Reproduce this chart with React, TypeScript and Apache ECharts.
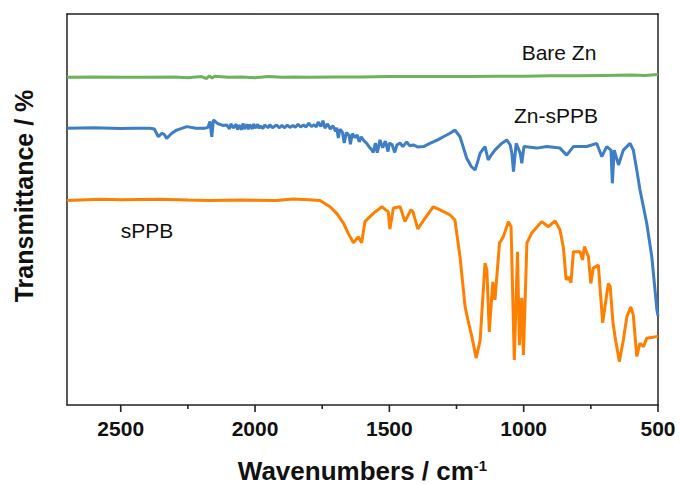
import React, { useEffect, useRef } from "react";
import * as echarts from "echarts";

// Wavenumber axis (cm^-1): range, major and minor tick values
const xRange = [500, 2700];
const xMajorStep = 500;
const xMajorTicks = [500, 1000, 1500, 2000, 2500];
const xMinorTicks = [750, 1250, 1750, 2250];

// Series names
const seriesNames = ["Bare Zn", "Zn-sPPB", "sPPB"];

// [wavenumber, transmittance (arbitrary offset %)]
const bareZn: [number, number][] = [
  [2700, 83.8], [2600, 83.9], [2500, 83.8], [2400, 83.8], [2300, 83.9], [2250, 83.7],
  [2200, 84.0], [2180, 83.5], [2170, 84.2], [2160, 83.6], [2150, 84.1], [2100, 83.8],
  [2050, 83.9], [2000, 83.7], [1950, 84.0], [1900, 83.8], [1850, 83.9], [1800, 83.8],
  [1700, 83.9], [1600, 83.9], [1500, 84.0], [1400, 84.0], [1300, 84.0], [1200, 84.0],
  [1100, 84.1], [1000, 84.1], [900, 84.2], [800, 84.2], [700, 84.3], [600, 84.4],
  [550, 84.3], [500, 84.5],
];

const znSPPB: [number, number][] = [
  [2700, 70.8], [2600, 70.9], [2500, 70.7], [2450, 70.8], [2391, 70.8], [2375, 70.6],
  [2360, 68.6], [2347, 69.5], [2338, 69.2], [2329, 68.2], [2310, 69.5], [2292, 70.3],
  [2254, 71.2], [2220, 70.8], [2185, 70.8], [2175, 71.0], [2168, 72.5], [2161, 68.6],
  [2155, 72.9], [2140, 72.0], [2120, 71.5], [2105, 71.6], [2095, 70.6], [2090, 71.9],
  [2080, 70.9], [2070, 71.8], [2065, 70.4], [2060, 71.6], [2050, 70.4], [2045, 72.0],
  [2040, 70.6], [2030, 71.8], [2025, 70.5], [2020, 71.7], [2010, 70.6], [2005, 71.9],
  [2000, 70.8], [1990, 71.8], [1985, 70.7], [1981, 71.4], [1970, 70.7], [1965, 71.6],
  [1950, 70.9], [1945, 71.7], [1935, 70.9], [1920, 71.6], [1910, 70.9], [1900, 71.5],
  [1890, 70.9], [1880, 71.6], [1870, 71.0], [1859, 71.5], [1850, 71.0], [1840, 71.8],
  [1830, 71.1], [1820, 71.6], [1810, 71.1], [1800, 72.1], [1790, 71.2], [1780, 71.7],
  [1772, 71.1], [1765, 72.4], [1755, 71.2], [1747, 72.7], [1740, 70.8], [1730, 71.9],
  [1720, 70.6], [1710, 71.4], [1700, 70.0], [1696, 70.9], [1690, 68.3], [1684, 70.5],
  [1675, 69.8], [1668, 67.0], [1660, 69.7], [1650, 68.9], [1645, 66.7], [1638, 69.4],
  [1628, 68.4], [1620, 69.1], [1612, 67.3], [1605, 68.6], [1595, 67.6], [1585, 67.0],
  [1575, 66.0], [1565, 65.2], [1560, 64.6], [1552, 67.0], [1545, 64.5], [1535, 67.8],
  [1525, 65.8], [1515, 67.5], [1505, 64.8], [1500, 67.0], [1490, 66.6], [1480, 64.6],
  [1472, 66.5], [1460, 67.0], [1450, 66.1], [1435, 67.3], [1425, 66.3], [1411, 66.5],
  [1395, 66.0], [1373, 66.1], [1349, 66.9], [1320, 67.8], [1299, 68.6], [1274, 69.5],
  [1256, 70.3], [1237, 68.6], [1212, 63.1], [1195, 61.0], [1181, 60.1], [1170, 62.5],
  [1162, 64.4], [1144, 66.1], [1132, 62.7], [1120, 64.0], [1107, 65.2], [1082, 66.9],
  [1063, 67.8], [1050, 66.5], [1044, 64.4], [1038, 59.7], [1028, 66.9], [1013, 64.4],
  [1007, 61.8], [999, 66.1], [951, 65.7], [914, 66.1], [865, 65.7], [840, 63.9],
  [815, 66.1], [765, 66.1], [728, 66.9], [709, 63.5], [691, 66.1], [675, 65.2],
  [670, 56.7], [663, 65.2], [647, 61.4], [629, 65.2], [604, 66.9], [592, 65.2],
  [579, 60.1], [567, 55.0], [542, 46.5], [523, 37.9], [504, 24.3], [500, 22.8],
];

const sPPB: [number, number][] = [
  [2700, 52.3], [2577, 52.6], [2500, 52.5], [2354, 52.6], [2250, 52.4], [2168, 52.3],
  [2050, 52.4], [1919, 52.3], [1859, 52.7], [1800, 52.5], [1758, 52.3], [1721, 50.7],
  [1696, 49.0], [1671, 46.5], [1653, 43.9], [1634, 41.5], [1625, 42.2], [1616, 43.0],
  [1603, 41.5], [1591, 46.9], [1560, 49.0], [1528, 50.7], [1504, 49.4], [1498, 45.0],
  [1485, 50.4], [1460, 50.7], [1442, 46.9], [1420, 49.9], [1412, 49.4], [1394, 45.0],
  [1380, 46.5], [1337, 50.7], [1311, 49.9], [1274, 48.6], [1256, 47.3], [1237, 37.9],
  [1218, 25.1], [1206, 21.3], [1193, 17.5], [1177, 12.0], [1162, 16.6], [1144, 36.3],
  [1137, 34.5], [1128, 18.7], [1115, 31.5], [1107, 26.9], [1090, 41.4], [1076, 43.0],
  [1057, 46.9], [1047, 45.6], [1035, 11.5], [1023, 39.2], [1016, 15.3], [1007, 27.4],
  [1001, 12.8], [988, 41.4], [970, 44.0], [933, 46.9], [908, 45.6], [883, 47.1],
  [865, 44.8], [852, 40.2], [842, 32.0], [834, 32.8], [824, 31.3], [815, 39.2],
  [790, 39.2], [781, 37.1], [774, 40.5], [759, 37.9], [750, 31.1], [741, 35.0],
  [722, 35.8], [706, 21.0], [685, 31.1], [678, 30.3], [668, 21.3], [660, 17.5],
  [644, 11.1], [629, 16.6], [616, 22.6], [601, 25.1], [592, 23.0], [579, 12.4],
  [567, 15.8], [554, 14.9], [542, 17.1], [520, 17.3], [504, 17.5], [500, 17.6],
];

const seriesData = [bareZn, znSPPB, sPPB];
const seriesColors = ["#6db35c", "#3d7ec4", "#ff7f00"];

export default function App() {
  const ref = useRef<HTMLDivElement>(null);

  useEffect(() => {
    document.body.style.margin = "0";
    if (!ref.current) return;
    const chart = echarts.init(ref.current, null, { renderer: "svg" });
    const font = "'Liberation Sans', Arial, Helvetica, sans-serif";
    const axisColor = "#222";
    const hiddenAxisParts = {
      axisTick: { show: false },
      axisLabel: { show: false },
      splitLine: { show: false },
    };
    const centered = {
      align: "center",
      verticalAlign: "middle",
      textAlign: "center",
      textVerticalAlign: "middle",
    };

    chart.setOption({
      animation: false,
      backgroundColor: "#ffffff",
      textStyle: { fontFamily: font },
      grid: { left: 67, right: 22, top: 14, bottom: 79, outerBoundsMode: "none", containLabel: false },
      xAxis: [
        {
          type: "value",
          min: xRange[0],
          max: xRange[1],
          interval: xMajorStep,
          inverse: true,
          position: "bottom",
          axisLine: { show: true, onZero: false, lineStyle: { color: axisColor, width: 1.5 } },
          axisTick: { show: false },
          axisLabel: {
            formatter: (v: number) => String(v),
            showMaxLabel: false,
            showMinLabel: true,
            fontSize: 21,
            fontWeight: "bold",
            color: "#111",
            margin: 13,
            fontFamily: font,
          },
          splitLine: { show: false },
          name: "{a|Wavenumbers / cm}{s|-1}",
          nameLocation: "middle",
          nameGap: 53,
          nameTextStyle: {
            lineHeight: 25,
            rich: {
              a: { fontSize: 26, lineHeight: 25, fontWeight: "bold", color: "#111", fontFamily: font },
              s: {
                fontSize: 15,
                lineHeight: 15,
                fontWeight: "bold",
                color: "#111",
                fontFamily: font,
                verticalAlign: "top",
                padding: [0, 0, 8, 0],
              },
            },
          },
        },
        {
          type: "value",
          min: xRange[0],
          max: xRange[1],
          inverse: true,
          position: "top",
          axisLine: { show: true, onZero: false, lineStyle: { color: axisColor, width: 1.5 } },
          ...hiddenAxisParts,
        },
      ],
      yAxis: [
        {
          type: "value",
          min: 0,
          max: 100,
          position: "left",
          axisLine: { show: true, onZero: false, lineStyle: { color: axisColor, width: 1.5 } },
          ...hiddenAxisParts,
        },
        {
          type: "value",
          min: 0,
          max: 100,
          position: "right",
          axisLine: { show: true, onZero: false, lineStyle: { color: axisColor, width: 1.5 } },
          ...hiddenAxisParts,
        },
      ],
      series: seriesNames.map((name, i) => ({
        name,
        type: "line",
        xAxisIndex: 0,
        yAxisIndex: 0,
        data: seriesData[i],
        showSymbol: false,
        symbol: "none",
        lineStyle: { color: seriesColors[i], width: 3 },
        z: 3 - i,
      })),
    });

    // Tick marks placed through the axis scales (value -> pixel)
    const tickRects: any[] = [];
    const addTick = (v: number, len: number) => {
      const x = chart.convertToPixel({ xAxisIndex: 0 }, v) as any;
      const y = chart.convertToPixel({ yAxisIndex: 0 }, 0) as any;
      if (!isFinite(x) || !isFinite(y)) return;
      tickRects.push({
        type: "rect",
        silent: true,
        z: 100,
        shape: { x: x - 0.8, y: y, width: 1.6, height: len },
        style: { fill: axisColor },
      });
    };
    xMajorTicks.forEach((v) => addTick(v, 7));
    xMinorTicks.forEach((v) => addTick(v, 4));

    chart.setOption({
      graphic: [
        ...tickRects,
        {
          type: "text",
          x: 24,
          y: 196,
          rotation: Math.PI / 2,
          style: {
            text: "Transmittance / %",
            fontSize: 25,
            fontWeight: "bold",
            fontFamily: font,
            fill: "#111",
            ...centered,
          },
        },
        {
          type: "text",
          x: 559,
          y: 52,
          style: { text: seriesNames[0], fontSize: 21, fontFamily: font, fill: "#111", ...centered },
        },
        {
          type: "text",
          x: 556,
          y: 115,
          style: { text: seriesNames[1], fontSize: 21, fontFamily: font, fill: "#111", ...centered },
        },
        {
          type: "text",
          x: 147,
          y: 230,
          style: { text: seriesNames[2], fontSize: 21, fontFamily: font, fill: "#111", ...centered },
        },
      ],
    });

    return () => {
      chart.dispose();
    };
  }, []);

  return <div ref={ref} style={{ width: 680, height: 484 }} />;
}
